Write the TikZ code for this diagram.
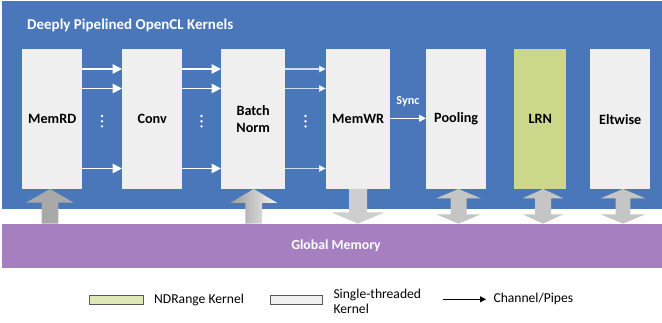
\documentclass[tikz,border=0pt]{standalone}
\usepackage{fontspec}
\setmainfont{Carlito}
\usetikzlibrary{arrows.meta}

\definecolor{panelblue}{HTML}{4A76BA}
\definecolor{memviolet}{HTML}{A57FC0}
\definecolor{kernelgray}{HTML}{EFEFEF}
\definecolor{ndgreen}{HTML}{CBD88A}
\definecolor{legendgreen}{HTML}{DDE8B4}
\definecolor{blockgray}{HTML}{C6C5C5}
\definecolor{darkblock}{HTML}{A9A9A9}

% vertical block arrows between the kernels and global memory
% #1 style, #2 centre x, #3 head half width, #4 shaft half width, #5 head base y
\newcommand\UpBlock[5]{%
  \path[#1] ({#2-#4},223.7) -- ({#2-#4},#5) -- ({#2-#3},#5) -- (#2,189)
    -- ({#2+#3},#5) -- ({#2+#4},#5) -- ({#2+#4},223.7) -- cycle;}
\newcommand\DownBlock[5]{%
  \path[#1] ({#2-#4},189) -- ({#2-#4},#5) -- ({#2-#3},#5) -- (#2,223.7)
    -- ({#2+#3},#5) -- ({#2+#4},#5) -- ({#2+#4},189) -- cycle;}
\newcommand\BothBlock[4]{%
  \path[#1] (#2,189) -- ({#2+#3},198.3) -- ({#2+#4},198.3) -- ({#2+#4},214.3)
    -- ({#2+#3},214.3) -- (#2,223.7) -- ({#2-#3},214.3) -- ({#2-#4},214.3)
    -- ({#2-#4},198.3) -- ({#2-#3},198.3) -- cycle;}

\begin{document}
\begin{tikzpicture}[x=1pt,y=-1pt,
  kernel/.style={rectangle, fill=kernelgray, inner sep=0pt, anchor=north west,
    minimum height=140pt, align=center, text=black,
    font=\bfseries\fontsize{14.2}{16.7}\selectfont},
  label/.style={inner sep=0pt, font=\bfseries\fontsize{13.8}{16}\selectfont, text=white},
  chan/.style={draw=white, line width=1.7pt, -{Triangle[length=9.5pt,width=9.5pt]}},
  thinchan/.style={draw=white, draw opacity=0.75, line width=1.1pt,
    -{Triangle[length=7pt,width=6.5pt]}},
  syncchan/.style={draw=white, line width=1pt, -{Triangle[length=7pt,width=7pt]}},
  legbox/.style={rectangle, draw=black!65, line width=0.8pt, inner sep=0pt,
    minimum width=54pt, minimum height=9pt},
  legtext/.style={inner sep=0pt, anchor=west, align=left,
    font=\fontsize{13.6}{15}\selectfont},
  legarrow/.style={draw=black, line width=0.8pt, -{Triangle[length=6pt,width=6pt]}}]

\useasboundingbox (0,0) rectangle (662,323);

% background panels
\fill[panelblue] (2,1) rectangle (662,209);
\fill[memviolet] (2,223.7) rectangle (662,267.7);

\node[label, anchor=west, font=\bfseries\fontsize{15}{18}\selectfont] (title)
  at (27,25) {Deeply Pipelined OpenCL Kernels};
\node[label] (gmem) at (336,246) {Global Memory};

% kernels
\node[kernel, minimum width=60pt] (memrd) at (22,49) {MemRD};
\node[kernel, minimum width=60pt] (conv)  at (122,49) {Conv};
\node[kernel, minimum width=64pt] (bnorm) at (221,49) {Batch\\Norm};
\node[kernel, minimum width=64pt] (memwr) at (326,49) {MemWR};
\node[kernel, minimum width=60pt] (pool)  at (426,49) {Pooling};
\node[kernel, minimum width=52pt, fill=ndgreen] (lrn) at (514,49) {LRN};
\node[kernel, minimum width=60pt] (elt)   at (590,49) {Eltwise};

% channels between the pipelined kernels
\foreach \yy in {69,88.5,168.5} {
  \draw[chan] (memrd.east |- 0,\yy) -- (conv.west |- 0,\yy);
  \draw[chan] (conv.east |- 0,\yy) -- (bnorm.west |- 0,\yy);
  \draw[thinchan] (bnorm.east |- 0,\yy) -- (memwr.west |- 0,\yy);
}
\foreach \xx in {102,201.5,305.5}
  \foreach \yy in {116,121.2,126.4}
    \fill[white] (\xx,\yy) circle (1.35pt);

\draw[syncchan] (memwr.east |- 0,118.3) -- (pool.west |- 0,118.3);
\node[inner sep=0pt, anchor=base, text=white,
      font=\bfseries\fontsize{12.2}{14}\selectfont] (sync) at (408,105) {Sync};

% memory traffic
\UpBlock{fill=darkblock}{50}{24}{8.3}{202.7}
\UpBlock{left color=black!40, right color=black!4}{253.7}{23.7}{8.3}{203}
\DownBlock{fill=blockgray!85!white}{358}{26.7}{9}{212.3}
\BothBlock{fill=blockgray}{458.5}{22.3}{8}
\BothBlock{fill=blockgray}{543}{20.3}{8}
\BothBlock{fill=blockgray}{623}{22.3}{7.3}

% legend
\node[legbox, fill=legendgreen] (lgnd) at (116.7,299.5) {};
\node[legtext] (lgndt) at (154,299.5) {NDRange Kernel};
\node[legbox, fill=kernelgray, minimum width=51.6pt] (lgst) at (296.5,299.5) {};
\node[legtext] (lgstt) at (333.3,301.8) {Single-threaded\\Kernel};
\coordinate (lgarr) at (442.7,299.3);
\node[legtext] (lgch) at (493.3,299.3) {Channel/Pipes};
\draw[legarrow] (lgarr) -- ([xshift=-7.3pt]lgch.west);

\end{tikzpicture}
\end{document}
